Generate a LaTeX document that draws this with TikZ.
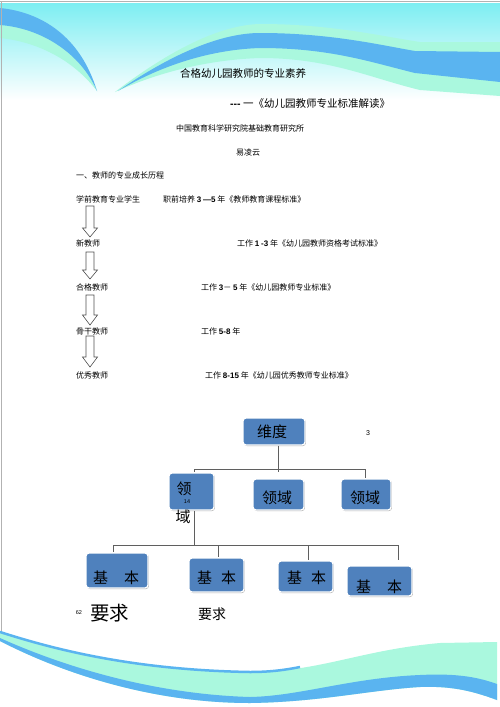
\documentclass[tikz,border=0pt]{standalone}
\usepackage{fontspec}
\newfontfamily\cjk{Noto Sans CJK SC}
\newfontfamily\numf{Liberation Sans}
\usetikzlibrary{shadows}
\definecolor{boxblue}{RGB}{79,129,189}
\definecolor{wblue}{RGB}{90,180,240}
\definecolor{wmint}{RGB}{170,248,222}
\definecolor{wcyan}{RGB}{125,238,242}
\definecolor{lgray}{RGB}{95,95,95}
\definecolor{agray}{RGB}{80,80,80}
\newcommand\nm[1]{{\numf\bfseries #1}}
\newcommand\hollowarrow[3]{\draw[harrow] (86,#1) -- (94,#1) -- (94,{#2-#3}) -- (97.5,{#2-#3}) -- (90,#2) -- (82.5,{#2-#3}) -- (86,{#2-#3}) -- cycle;}
\begin{document}
\begin{tikzpicture}[x=1pt,y=-1pt,
  txt/.style={anchor=west,inner sep=0pt,font=\cjk\fontsize{8}{10}\selectfont},
  ttl/.style={anchor=west,inner sep=0pt,font=\cjk\fontsize{10.5}{12}\selectfont},
  bigtxt/.style={inner sep=0pt,font=\cjk\fontsize{15}{18}\selectfont},
  tinytxt/.style={inner sep=0pt,font=\numf\fontsize{5.5}{6}\selectfont},
  box/.style={rounded corners=3pt,fill=boxblue,draw=white,line width=1.3pt,inner sep=0pt,
    drop shadow={shadow xshift=0.9pt,shadow yshift=-1pt,opacity=0.3,fill=black}},
  conn/.style={draw=lgray,line width=0.7pt},
  harrow/.style={draw=agray,line width=0.6pt,line join=miter}]
\useasboundingbox (0,0) rectangle (500,707);
\fill[white] (0,0) rectangle (500,707);
% ---- top decoration
\shade[top color=wcyan, bottom color=white] (0,3) rectangle (500,100);
\fill[wmint] (0,25) .. controls (40,28) and (80,50) .. (97,91) .. controls (75,62) and (40,42) .. (0,38) -- cycle;
\fill[wblue] (0,8) .. controls (40,12) and (80,35) .. (97,91) .. controls (80,52) and (40,28) .. (0,25) -- cycle;
\fill[wmint] (115,92) .. controls (170,50) and (220,25) .. (260,24) .. controls (330,24) and (380,36) .. (420,42) -- (500,42) -- (500,96) -- (420,90) .. controls (370,78) and (330,58) .. (260,58) .. controls (200,60) and (150,76) .. (115,92) -- cycle;
\fill[wblue] (118,91) .. controls (170,55) and (220,33) .. (260,33) .. controls (330,33) and (380,45) .. (415,51) -- (500,52) -- (500,82) -- (415,73) .. controls (370,62) and (330,48) .. (260,48) .. controls (200,50) and (150,72) .. (118,91) -- cycle;
\draw[gray!60,line width=0.8pt] (0,1.5) -- (500,1.5);
\draw[gray!60,line width=0.8pt] (1,1.5) -- (1,640);
% ---- bottom decoration
\fill[wmint] (0,632) .. controls (50,648) and (130,670) .. (250,672) .. controls (320,672) and (360,650) .. (440,643) -- (497,642) -- (497,700) .. controls (470,690) and (450,686) .. (420,687) .. controls (370,690) and (320,702) .. (250,703) .. controls (150,703) and (60,672) .. (0,641) -- cycle;
\fill[wblue] (0,638) .. controls (60,665) and (150,694) .. (250,697) .. controls (300,696) and (350,678) .. (420,675) .. controls (460,673) and (480,678) .. (497,684) -- (497,700) .. controls (470,690) and (450,686) .. (420,687) .. controls (370,690) and (320,702) .. (250,703) .. controls (150,703) and (60,672) .. (0,641) -- cycle;
\draw[wblue,line width=2.5pt] (0,632) .. controls (50,648) and (130,670) .. (250,672) .. controls (270,672) and (285,670) .. (300,667);
% ---- header texts
\node[ttl] (title) at (180,73) {合格幼儿园教师的专业素养};
\node[ttl] (subtitle) at (230,104) {\nm{{-}{-}{-}} 一《幼儿园教师专业标准解读》};
\node[txt] (inst) at (176,128) {中国教育科学研究院基础教育研究所};
\node[txt] (author) at (236,152) {易凌云};
\node[txt] (sec) at (76,175) {一、教师的专业成长历程};
% ---- growth stages
\node[txt] (s1) at (76,199) {学前教育专业学生};
\node[txt] (r1) at (163,199) {职前培养 \nm{3} \nm{—5} 年《教师教育课程标准》};
\node[txt] (s2) at (76,243) {新教师};
\node[txt] (r2) at (237,243) {工作 \nm{1} \nm{-3} 年《幼儿园教师资格考试标准》};
\node[txt] (s3) at (76,287) {合格教师};
\node[txt] (r3) at (201,287) {工作 \nm{3}－ \nm{5} 年《幼儿园教师专业标准》};
\node[txt] (s4) at (76,331) {骨干教师};
\node[txt] (r4) at (201,331) {工作 \nm{5-8} 年};
\node[txt] (s5) at (76,375) {优秀教师};
\node[txt] (r5) at (205,375) {工作 \nm{8-15} 年《幼儿园优秀教师专业标准》};
\hollowarrow{206}{237}{9}
\hollowarrow{252}{279}{9}
\hollowarrow{295}{325}{10}
\hollowarrow{336}{367}{10}
% ---- tree
\node[box,minimum width=62pt,minimum height=27pt] (weidu) at (274,431.5) {};
\node[bigtxt] (weidut) at (272,431.5) {维度};
\node[inner sep=0pt,font=\numf\fontsize{7}{8}\selectfont] (three) at (368,433) {3};
\coordinate (ja) at (194,469);
\coordinate (jb) at (365,469);
\coordinate (jm) at (278.5,472);
\node[box,minimum width=45pt,minimum height=37pt] (L1) at (191.5,491.5) {};
\node[box,minimum width=51pt,minimum height=31pt] (L2) at (278.5,494.5) {};
\node[box,minimum width=50pt,minimum height=31pt] (L3) at (366,494.5) {};
\draw[conn] ([xshift=4.5pt]weidu.south) -- (jm);
\draw[conn] (ja) -- (jb);
\draw[conn] (ja) -- ([xshift=2.5pt]L1.north);
\draw[conn] (jb) -- ([xshift=-1pt]L3.north);
\node[bigtxt] (ling1) at (184,489) {领};
\node[tinytxt] (fourteen) at (187,502) {14};
\node[bigtxt] (yu1) at (183,517) {域};
\node[bigtxt] (L2t) at (277,498) {领域};
\node[bigtxt] (L3t) at (365,498) {领域};
\coordinate (k0) at (194,545);
\coordinate (ka) at (113,545);
\coordinate (kb) at (398,545);
\coordinate (k4) at (398,560);
\node[box,minimum width=62pt,minimum height=35pt] (B1) at (117,570.5) {};
\node[box,minimum width=55pt,minimum height=34pt] (B2) at (216.5,575) {};
\node[box,minimum width=55pt,minimum height=31pt] (B3) at (305.5,576.5) {};
\node[box,minimum width=65pt,minimum height=30pt] (B4) at (379.5,581) {};
\draw[conn] ([xshift=2.5pt]L1.south) -- (k0);
\draw[conn] (ka) -- (kb);
\draw[conn] (ka) -- ([xshift=-4pt]B1.north);
\draw[conn] (218,545) -- ([xshift=1.5pt]B2.north);
\draw[conn] (308,545) -- ([xshift=2.5pt]B3.north);
\draw[conn] (kb) -- (k4);
\node[bigtxt] (b1a) at (100.5,578) {基};
\node[bigtxt] (b1b) at (131.5,578) {本};
\node[bigtxt] (b2a) at (204.5,578) {基};
\node[bigtxt] (b2b) at (228.5,578) {本};
\node[bigtxt] (b3a) at (294.5,578) {基};
\node[bigtxt] (b3b) at (318.5,578) {本};
\node[bigtxt] (b4a) at (363.5,587) {基};
\node[bigtxt] (b4b) at (394.5,587) {本};
\node[inner sep=0pt,font=\numf\fontsize{5.5}{6}\selectfont] (sixtytwo) at (79,613) {62};
\node[inner sep=0pt,font=\cjk\fontsize{19.5}{22}\selectfont] (yq1) at (109.5,613) {要求};
\node[inner sep=0pt,font=\cjk\fontsize{14}{16}\selectfont] (yq2) at (212,614) {要求};
\end{tikzpicture}
\end{document}
